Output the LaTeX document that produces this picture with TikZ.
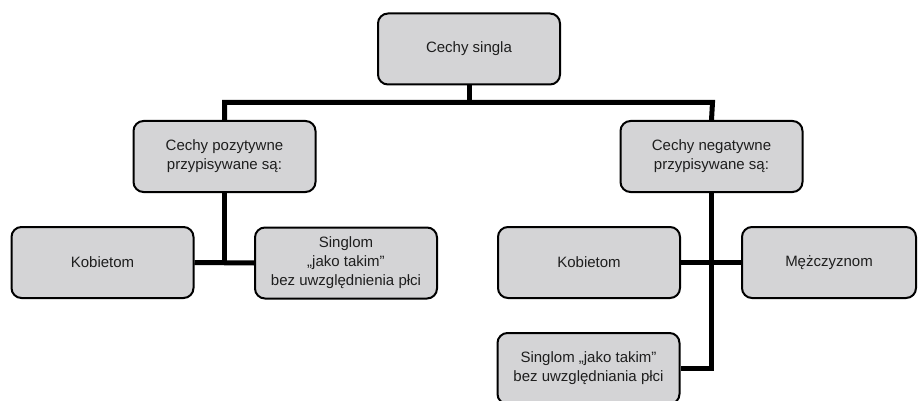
\documentclass[tikz,border=0pt]{standalone}
\usepackage{fontspec}
\setmainfont{Liberation Sans}
\definecolor{boxgray}{RGB}{212,212,214}
\definecolor{txt}{RGB}{30,30,30}
\begin{document}
\begin{tikzpicture}[x=1pt,y=-1pt,
  box/.style={draw=black, line width=2pt, fill=boxgray, rounded corners=10pt,
    minimum width=182pt, minimum height=71pt, inner sep=0pt, align=center,
    text=txt, font=\fontsize{15}{19}\selectfont},
  conn/.style={draw=black, line width=5pt, line join=miter}]
\useasboundingbox (0,0) rectangle (918,401);
\coordinate (barl) at (224.5,102.5);
\coordinate (barr) at (712.5,102.5);
\node[box] (top) at (469,49) {Cechy singla};
\node[box] (lm) at (224.5,156.5) {Cechy pozytywne\\przypisywane są:};
\node[box] (rm) at (711.5,156.5) {Cechy negatywne\\przypisywane są:};
\node[box] (lk) at (102.5,262.5) {Kobietom};
\node[box] (ls) at (346,263) {Singlom\\„jako takim”\\bez uwzględnienia płci};
\node[box] (rk) at (589,262.5) {Kobietom};
\node[box, minimum width=174pt] (rmz) at (829,262.5) {Mężczyznom};
\node[box] (rb) at (588.5,368.5) {Singlom „jako takim”\\bez uwzględniania płci};
\draw[conn] (top.south) -- (top.south |- barl);
\draw[conn] (lm.north) -- (barl) -- (barr) -- (rm.north);
\draw[conn] (lm.south) -- (lm.south |- lk.east);
\draw[conn] (lk.east) -- (ls.west);
\draw[conn] (rm.south) |- (rb.east);
\draw[conn] (rk.east) -- (rmz.west);
\end{tikzpicture}
\end{document}
